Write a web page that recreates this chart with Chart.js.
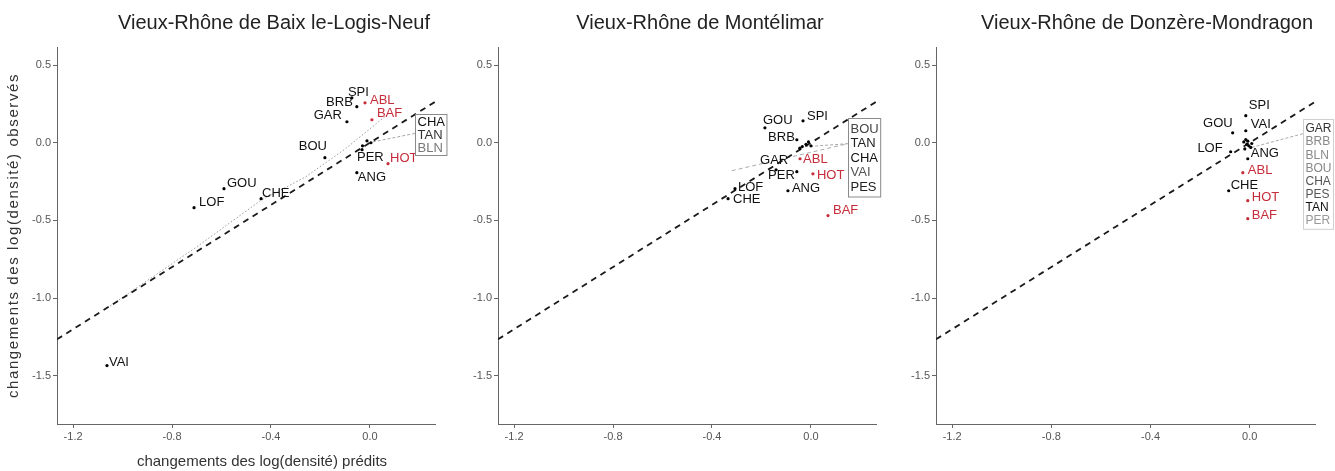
<!DOCTYPE html>
<html><head><meta charset="utf-8">
<script src="https://cdn.jsdelivr.net/npm/chart.js@4.4.1/dist/chart.umd.min.js"></script>
<style>
html,body{margin:0;padding:0;background:#fff;}
#wrap{position:relative;width:1335px;height:471px;overflow:hidden;background:#fff;}
.pn{position:absolute;top:0;height:471px;}
</style></head><body><div id="wrap">
<div class="pn" style="left:0px;width:450px"><canvas id="c1" width="450" height="471"></canvas></div>
<div class="pn" style="left:450px;width:445px"><canvas id="c2" width="445" height="471"></canvas></div>
<div class="pn" style="left:890px;width:445px"><canvas id="c3" width="445" height="471"></canvas></div>
</div>
<script>
// ---------- shared axis data ----------
const xTicks = [-1.2, -0.8, -0.4, 0.0];
const yTicks = [0.5, 0.0, -0.5, -1.0, -1.5];
const xRange = [-1.265, 0.263];
const yRange = [-1.81, 0.616];
const panelTitles = ['Vieux-Rhône de Baix le-Logis-Neuf', 'Vieux-Rhône de Montélimar', 'Vieux-Rhône de Donzère-Mondragon'];
const xAxisTitle = 'changements des log(densité) prédits';
const yAxisTitle = 'changements des log(densité) observés';
const redSpecies = ['ABL', 'BAF', 'HOT'];

// ---------- panel 1 ----------
const p1Species   = ['SPI','BRB','ABL','GAR','BAF','BOU','PER','HOT','ANG','GOU','LOF','CHE','VAI','CHA','TAN','BLN'];
const p1Predicted = [-0.073,-0.053,-0.020,-0.093,0.008,-0.182,-0.032,0.073,-0.053,-0.590,-0.711,-0.440,-1.063,-0.012,0.004,-0.030];
const p1Observed  = [0.289,0.232,0.257,0.135,0.148,-0.096,-0.045,-0.135,-0.193,-0.296,-0.418,-0.360,-1.434,0.012,0.000,-0.020];
const p1BoxSpecies = ['CHA','TAN','BLN'];
const p1FitX = [-1.05,-0.70,-0.44,-0.26,-0.10,0.07];
const p1FitY = [-1.05,-0.67,-0.37,-0.22,-0.04,0.18];
const p1LeaderX = [0.182, -0.005];
const p1LeaderY = [0.060, 0.000];
const p1BoxAt = [0.182, 0.186];

// ---------- panel 2 ----------
const p2Species   = ['GOU','SPI','BRB','GAR','ABL','PER','HOT','ANG','LOF','CHE','BAF','BOU','TAN','CHA','VAI','PES'];
const p2Predicted = [-0.186,-0.032,-0.057,-0.141,-0.044,-0.057,0.008,-0.093,-0.307,-0.335,0.069,-0.035,-0.020,-0.010,-0.045,0.000];
const p2Observed  = [0.096,0.141,0.019,-0.174,-0.103,-0.186,-0.200,-0.309,-0.296,-0.360,-0.469,-0.025,-0.010,0.005,-0.035,-0.020];
const p2BoxSpecies = ['BOU','TAN','CHA','VAI','PES'];
const p2FitX = [-0.32, 0.15];
const p2FitY = [-0.18, -0.006];
const p2LeaderX = [0.15, -0.024];
const p2LeaderY = [-0.006, -0.026];
const p2BoxAt = [0.15, 0.161];

// ---------- panel 3 ----------
const p3Species   = ['SPI','GOU','VAI','LOF','ANG','ABL','CHE','HOT','BAF','GAR','BRB','BLN','BOU','CHA','PES','TAN','PER'];
const p3Predicted = [-0.016,-0.069,-0.016,-0.077,-0.008,-0.028,-0.085,-0.008,-0.008,-0.016,-0.024,-0.012,-0.004,0.004,-0.020,0.008,-0.008];
const p3Observed  = [0.174,0.064,0.077,-0.058,-0.103,-0.193,-0.309,-0.373,-0.489,0.020,0.005,-0.010,-0.020,-0.030,-0.040,-0.005,0.010];
const p3BoxSpecies = ['GAR','BRB','BLN','BOU','CHA','PES','TAN','PER'];
const p3FitX = [];
const p3FitY = [];
const p3LeaderX = [0.214, 0.004];
const p3LeaderY = [0.058, -0.032];
const p3BoxAt = [0.214, 0.154];

// ---------- label placement (pixel offsets from the point, text alignment) ----------
const p1LabelPos = {SPI:[-4,-5,'left'],BRB:[-4,-4,'right'],ABL:[5,-2,'left'],GAR:[-5,-6,'right'],BAF:[5,-6,'left'],
  BOU:[2,-11,'right'],PER:[-5,8,'left'],HOT:[2,-5,'left'],ANG:[1,5,'left'],GOU:[3,-5,'left'],LOF:[5,-5,'left'],
  CHE:[1,-5,'left'],VAI:[2,-3,'left']};
const p2LabelPos = {GOU:[-2,-7,'left'],SPI:[4,-4,'left'],BRB:[-2,-2,'right'],GAR:[-16,-9,'left'],ABL:[3,1,'left'],
  PER:[-2,4,'right'],HOT:[4,2,'left'],ANG:[4,-2,'left'],LOF:[3,-1,'left'],CHE:[5,1,'left'],BAF:[5,-5,'left']};
const p3LabelPos = {SPI:[3,-10,'left'],GOU:[0,-9,'right'],VAI:[5,-6,'left'],LOF:[-8,-3,'right'],ANG:[3,-5,'left'],
  ABL:[5,-2,'left'],CHE:[2,-5,'left'],HOT:[4,-3,'left'],BAF:[4,-3,'left']};

const FONT = "'Liberation Sans', Arial, Helvetica, sans-serif";
const RED = '#c62d3a';

const panels = [
  {id:'c1', pageLeft:0, chartLeft:57, chartRight:435, titleX:274, species:p1Species, px:p1Predicted, py:p1Observed,
   box:p1BoxSpecies, boxAt:p1BoxAt, boxRow:13, boxPad:1, boxFont:13, boxBorder:'#8a8a8a',
   boxShade:['#111','#333','#777'], fitX:p1FitX, fitY:p1FitY, fitDash:[1.5,2], fitColor:'#9a9a9a',
   leadX:p1LeaderX, leadY:p1LeaderY, labels:p1LabelPos, axisTitles:true},
  {id:'c2', pageLeft:450, chartLeft:498, chartRight:876, titleX:700, species:p2Species, px:p2Predicted, py:p2Observed,
   box:p2BoxSpecies, boxAt:p2BoxAt, boxRow:14.5, boxPad:3, boxFont:13, boxBorder:'#8a8a8a',
   boxShade:['#444','#222','#111','#555','#222'], fitX:p2FitX, fitY:p2FitY, fitDash:[4,3], fitColor:'#aaaaaa',
   leadX:p2LeaderX, leadY:p2LeaderY, labels:p2LabelPos, axisTitles:false},
  {id:'c3', pageLeft:890, chartLeft:936, chartRight:1315, titleX:1147, species:p3Species, px:p3Predicted, py:p3Observed,
   box:p3BoxSpecies, boxAt:p3BoxAt, boxRow:13.1, boxPad:2.5, boxFont:12, boxBorder:'#cfcfcf',
   boxShade:['#333','#888','#888','#888','#555','#555','#111','#999'], fitX:p3FitX, fitY:p3FitY, fitDash:[1.5,2], fitColor:'#9a9a9a',
   leadX:p3LeaderX, leadY:p3LeaderY, labels:p3LabelPos, axisTitles:false}
];

const annotPlugin = {
  id: 'annot',
  afterDraw(chart) {
    const P = chart.options.plugins.annot;
    const ctx = chart.ctx, xs = chart.scales.x, ys = chart.scales.y;
    ctx.save();
    // title
    ctx.fillStyle = '#222';
    ctx.font = '20px ' + FONT;
    ctx.textAlign = 'center';
    ctx.textBaseline = 'middle';
    ctx.fillText(P.title, P.titleX - P.pageLeft, 23);
    // axis titles
    if (P.axisTitles) {
      ctx.font = '15px ' + FONT;
      ctx.fillStyle = '#333';
      ctx.fillText(xAxisTitle, 262 - P.pageLeft, 462);
      ctx.save();
      ctx.translate(14, (chart.chartArea.top + chart.chartArea.bottom) / 2);
      ctx.rotate(-Math.PI / 2);
      if ('letterSpacing' in ctx) ctx.letterSpacing = '1.6px';
      ctx.fillText(yAxisTitle, 0, 0);
      ctx.restore();
    }
    // point labels
    ctx.font = '13px ' + FONT;
    ctx.textBaseline = 'middle';
    P.species.forEach((s, i) => {
      const pos = P.labels[s];
      if (!pos) return;
      const x = xs.getPixelForValue(P.px[i]) + pos[0];
      const y = ys.getPixelForValue(P.py[i]) + pos[1];
      ctx.textAlign = pos[2];
      ctx.fillStyle = redSpecies.includes(s) ? RED : '#111';
      ctx.fillText(s, x, y);
    });
    // box of overlapping labels
    ctx.font = P.boxFont + 'px ' + FONT;
    let w = 0;
    P.box.forEach(s => { w = Math.max(w, ctx.measureText(s).width); });
    const bx = Math.round(xs.getPixelForValue(P.boxAt[0])) + 0.5;
    const by = Math.round(ys.getPixelForValue(P.boxAt[1])) + 0.5;
    const bw = w + 4, bh = P.boxPad * 2 + P.boxRow * P.box.length;
    ctx.fillStyle = '#fff';
    ctx.fillRect(bx, by, bw, bh);
    ctx.strokeStyle = P.boxBorder;
    ctx.lineWidth = 1;
    ctx.strokeRect(bx, by, bw, bh);
    ctx.textAlign = 'left';
    P.box.forEach((s, i) => {
      ctx.fillStyle = P.boxShade[i];
      ctx.fillText(s, bx + 2, by + P.boxPad + P.boxRow * (i + 0.5) + 0.5);
    });
    ctx.restore();
  }
};

panels.forEach(P => {
  const canvas = document.getElementById(P.id);
  const W = canvas.width;
  const pts = P.species.map((s, i) => ({x: P.px[i], y: P.py[i]}));
  const colors = P.species.map(s => redSpecies.includes(s) ? RED : '#000');
  const identity = xRange.map(v => ({x: v, y: v}));
  const fit = P.fitX.map((v, i) => ({x: v, y: P.fitY[i]}));
  const lead = P.leadX.map((v, i) => ({x: v, y: P.leadY[i]}));
  new Chart(canvas, {
    type: 'scatter',
    data: {
      datasets: [
        {type:'scatter', data: pts, pointRadius: 1.6, pointBackgroundColor: colors, pointBorderWidth: 0, order: 0},
        {type:'line', data: identity, borderColor: '#1a1a1a', borderWidth: 1.8, borderDash: [6,5], pointRadius: 0, fill: false, order: 2},
        {type:'line', data: fit, borderColor: P.fitColor, borderWidth: 1, borderDash: P.fitDash, pointRadius: 0, fill: false, order: 3},
        {type:'line', data: lead, borderColor: '#a8a8a8', borderWidth: 1, borderDash: [3,2], pointRadius: 0, fill: false, order: 4, clip: false}
      ]
    },
    options: {
      responsive: false,
      animation: false,
      devicePixelRatio: 1,
      layout: {padding: {top: 47, right: W - (P.chartRight - P.pageLeft), bottom: 0, left: 0}},
      plugins: {
        legend: {display: false}, tooltip: {enabled: false}, title: {display: false},
        annot: {title: panelTitles[panels.indexOf(P)], titleX: P.titleX, pageLeft: P.pageLeft,
          axisTitles: P.axisTitles, species: P.species, px: P.px, py: P.py, labels: P.labels,
          box: P.box, boxAt: P.boxAt, boxRow: P.boxRow, boxPad: P.boxPad, boxFont: P.boxFont,
          boxBorder: P.boxBorder, boxShade: P.boxShade}
      },
      scales: {
        x: {
          type: 'linear', min: xRange[0], max: xRange[1],
          afterBuildTicks: s => { s.ticks = xTicks.map(v => ({value: v})); },
          afterFit: s => { s.height = 471 - 424; },
          ticks: {callback: v => v.toFixed(1), color: '#555', font: {size: 11, family: FONT}, padding: 2, maxRotation: 0, autoSkip: false},
          grid: {drawOnChartArea: false, drawTicks: true, tickLength: 4, color: '#666'},
          border: {display: true, color: '#666', width: 1}
        },
        y: {
          type: 'linear', min: yRange[0], max: yRange[1],
          afterBuildTicks: s => { s.ticks = yTicks.map(v => ({value: v})); },
          afterFit: s => { s.width = P.chartLeft - P.pageLeft; },
          ticks: {callback: v => v.toFixed(1), color: '#555', font: {size: 11, family: FONT}, padding: 2, autoSkip: false},
          grid: {drawOnChartArea: false, drawTicks: true, tickLength: 4, color: '#666'},
          border: {display: true, color: '#666', width: 1}
        }
      }
    },
    plugins: [annotPlugin]
  });
});
</script>
</body></html>
